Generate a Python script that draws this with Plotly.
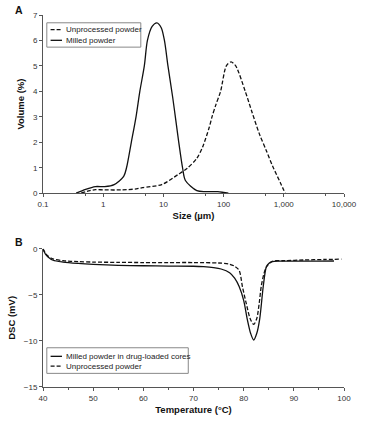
import plotly.graph_objects as go

# ---------- Panel A: particle size distribution ----------
size_unprocessed = [0.43, 0.6, 0.74, 1.06, 2.0, 3.56, 4.5, 9.4, 17.4, 24.9, 35.9, 44.7,
                    57.6, 64.2, 74.3, 89.1, 111, 133, 159, 229, 295, 394, 509, 656, 877, 1052]
vol_unprocessed = [0.0, 0.1, 0.14, 0.13, 0.13, 0.17, 0.22, 0.34, 0.73, 0.98, 1.37, 1.81,
                   2.58, 3.0, 3.47, 4.0, 5.0, 5.16, 5.0, 4.0, 3.2, 2.32, 1.69, 1.05, 0.41, 0.0]

size_milled = [0.355, 0.51, 0.74, 1.06, 1.52, 2.19, 2.44, 2.93, 3.51, 4.06, 4.82, 5.43,
               6.5, 7.8, 9.2, 10.4, 11.9, 14.3, 16.1, 18.0, 20.8, 23.2, 35.9, 50, 80, 100, 120]
vol_milled = [0.0, 0.15, 0.26, 0.26, 0.34, 0.66, 1.0, 2.0, 3.0, 4.0, 5.0, 6.0,
              6.55, 6.69, 6.5, 6.0, 5.0, 3.75, 2.85, 2.0, 1.0, 0.5, 0.1, 0.06, 0.06, 0.03, 0.0]

size_tickvals = [0.1, 1, 10, 100, 1000, 10000]
size_ticktext = ["0.1", "1", "10", "100", "1,000", "10,000"]
size_minor = [0.5, 5, 50, 500, 5000]

# ---------- Panel B: DSC ----------
temp_milled = [40, 40.5, 41, 42, 44, 47, 50, 55, 60, 65, 70, 72, 74, 75.5, 77.2, 78.2,
               79.1, 80, 80.7, 81.4, 82.0, 82.6, 83.2, 83.9, 84.5, 85.0, 85.7, 87, 90, 95, 98]
dsc_milled = [0.0, -0.6, -0.9, -1.25, -1.45, -1.6, -1.7, -1.8, -1.85, -1.88, -1.9, -1.95,
              -2.05, -2.2, -2.6, -3.2, -4.1, -5.6, -7.6, -9.2, -9.9, -9.2, -7.6, -4.1,
              -2.0, -1.6, -1.4, -1.35, -1.35, -1.35, -1.33]

temp_unproc = [40, 40.5, 41, 42, 44, 47, 50, 55, 60, 65, 70, 75, 77, 78.2, 79.1, 79.75,
               80.5, 81.3, 82.0, 82.6, 83.1, 83.5, 84.0, 84.5, 85.7, 88, 92, 96, 99.5]
dsc_unproc = [0.0, -0.5, -0.8, -1.1, -1.3, -1.4, -1.45, -1.48, -1.5, -1.5, -1.5, -1.55,
              -1.65, -1.9, -2.35, -4.1, -5.9, -7.6, -8.2, -7.6, -5.9, -4.1, -2.8, -2.0,
              -1.37, -1.3, -1.22, -1.17, -1.13]

legend_a = ["Unprocessed powder", "Milled powder"]
legend_b = ["Milled powder in drug-loaded cores", "Unprocessed powder"]

FONT = "Liberation Sans, Arial, sans-serif"
AX = "#555555"
LINE = "#111111"
DASH = "4px,2px"

W, H = 368, 424
ML, MR, MT, MB = 35, 16, 11, 31
PW, PH = W - ML - MR, H - MT - MB


def px(xp):
    return (xp - ML) / PW


def py(yp):
    return (H - MB - yp) / PH


fig = go.Figure()

fig.add_trace(go.Scatter(x=size_unprocessed, y=vol_unprocessed, mode="lines",
                         name=legend_a[0], xaxis="x", yaxis="y",
                         line=dict(color=LINE, width=1.3, dash=DASH, shape="spline", smoothing=0.8)))
fig.add_trace(go.Scatter(x=size_milled, y=vol_milled, mode="lines",
                         name=legend_a[1], xaxis="x", yaxis="y",
                         line=dict(color=LINE, width=1.3, shape="spline", smoothing=0.8)))

fig.add_trace(go.Scatter(x=temp_milled, y=dsc_milled, mode="lines",
                         name=legend_b[0], xaxis="x2", yaxis="y2", cliponaxis=False,
                         line=dict(color=LINE, width=1.3, shape="spline", smoothing=0.8)))
fig.add_trace(go.Scatter(x=temp_unproc, y=dsc_unproc, mode="lines",
                         name=legend_b[1], xaxis="x2", yaxis="y2", cliponaxis=False,
                         line=dict(color=LINE, width=1.3, dash=DASH, shape="spline", smoothing=0.8)))

axis_common = dict(showline=True, linecolor=AX, linewidth=1, ticks="outside", ticklen=3,
                   tickcolor=AX, tickwidth=1, showgrid=False, zeroline=False,
                   tickfont=dict(family=FONT, size=8, color="#333333"))
title_font = dict(family=FONT, size=9.5, color="#111")

# custom legends (boxes, line samples, labels)
shapes = []
annotations = []


def add_legend(box, rows, labels, dashes):
    x0, y0, x1, y1 = box
    shapes.append(dict(type="rect", xref="paper", yref="paper",
                       x0=px(x0), x1=px(x1), y0=py(y1), y1=py(y0),
                       line=dict(color="#888888", width=1), fillcolor="white", layer="above"))
    for r, lab, d in zip(rows, labels, dashes):
        shapes.append(dict(type="line", xref="paper", yref="paper",
                           x0=px(x0 + 4), x1=px(x0 + 16), y0=py(r), y1=py(r),
                           line=dict(color=LINE, width=1.3, dash=d), layer="above"))
        annotations.append(dict(text=lab, x=px(x0 + 18), y=py(r), xref="paper", yref="paper",
                                xanchor="left", yanchor="middle", showarrow=False,
                                font=dict(family=FONT, size=8, color="#222")))


add_legend((39, 19, 138, 44), [26, 37], legend_a, [DASH, "solid"])
add_legend((39, 352.7, 188, 379), [361.5, 371.5], legend_b, ["solid", DASH])

annotations.append(dict(text="<b>A</b>", x=px(3), y=py(6), xref="paper", yref="paper",
                        xanchor="left", yanchor="middle", showarrow=False,
                        font=dict(family=FONT, size=10.5, color="#111")))
annotations.append(dict(text="<b>B</b>", x=px(3), y=py(244), xref="paper", yref="paper",
                        xanchor="left", yanchor="middle", showarrow=False,
                        font=dict(family=FONT, size=10.5, color="#111")))

fig.update_layout(
    width=W, height=H,
    margin=dict(l=ML, r=MR, t=MT, b=MB),
    paper_bgcolor="white", plot_bgcolor="white",
    font=dict(family=FONT, size=8, color="#222222"),
    showlegend=False,
    xaxis=dict(type="log", range=[-1, 4], domain=[0, 1], anchor="y",
               tickvals=size_tickvals, ticktext=size_ticktext,
               minor=dict(tickvals=size_minor, ticks="outside", ticklen=2, tickcolor=AX),
               title=dict(text="<b>Size (µm)</b>", font=title_font, standoff=4),
               **axis_common),
    yaxis=dict(range=[0, 7], dtick=1, domain=[py(194), 1.0], anchor="x",
               title=dict(text="<b>Volume (%)</b>", font=title_font, standoff=6),
               **axis_common),
    xaxis2=dict(range=[40, 100], dtick=10, domain=[0, 1], anchor="y2",
                minor=dict(dtick=5, ticks="outside", ticklen=2, tickcolor=AX),
                title=dict(text="<b>Temperature (°C)</b>", font=title_font, standoff=4),
                **axis_common),
    yaxis2=dict(range=[-15, 0], dtick=5, domain=[0, py(251)], anchor="x2",
                title=dict(text="<b>DSC (mV)</b>", font=title_font, standoff=6),
                **axis_common),
    shapes=shapes,
    annotations=annotations,
)

fig.write_html("out.html")
